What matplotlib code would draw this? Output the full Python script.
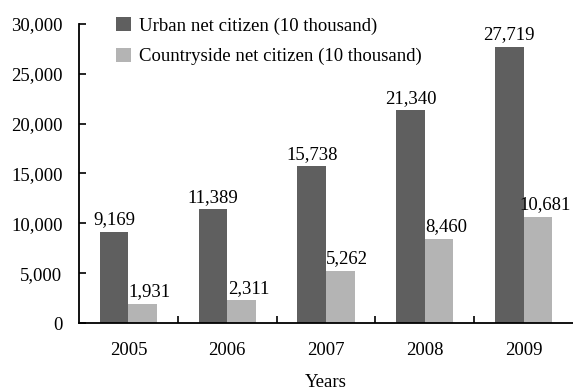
import matplotlib
matplotlib.use("Agg")
import matplotlib.pyplot as plt
import numpy as np
from matplotlib.ticker import FuncFormatter, FixedLocator

years = ["2005", "2006", "2007", "2008", "2009"]
urban = [9169, 11389, 15738, 21340, 27719]
countryside = [1931, 2311, 5262, 8460, 10681]
series_names = ["Urban net citizen (10 thousand)", "Countryside net citizen (10 thousand)"]

plt.rcParams['font.family'] = ['Liberation Serif', 'DejaVu Serif']
FS = 13.5

fig = plt.figure(figsize=(5.73, 3.92), dpi=100)
ax = fig.add_axes([0.138, 0.176, 0.862, 0.763])

x = np.arange(len(years))
w = 0.29
b1 = ax.bar(x - w/2, urban, w, color='#5f5f5f', label=series_names[0])
b2 = ax.bar(x + w/2, countryside, w, color='#b4b4b4', label=series_names[1])

for rect, v in zip(b1, urban):
    ax.text(rect.get_x() + rect.get_width()/2, v + 330, f"{v:,}", ha='center', va='bottom', fontsize=FS)
for rect, v in zip(b2, countryside):
    ax.text(rect.get_x() + rect.get_width()/2 + 0.07, v + 330, f"{v:,}", ha='center', va='bottom', fontsize=FS)

ax.set_xlim(-0.5, 4.5)
ax.set_ylim(0, 30000)
ax.set_yticks(np.arange(0, 30001, 5000))
ax.yaxis.set_major_formatter(FuncFormatter(lambda v, p: f"{int(v):,}"))
ax.set_xticks(x)
ax.set_xticklabels(years)
ax.xaxis.set_minor_locator(FixedLocator([0.5, 1.5, 2.5, 3.5]))
ax.tick_params(axis='x', which='major', length=0, pad=13.5, labelsize=FS)
ax.tick_params(axis='x', which='minor', direction='in', length=5, width=1.2)
ax.tick_params(axis='y', direction='in', length=5, width=1.2, pad=12, labelsize=FS)

for s in ['top', 'right']:
    ax.spines[s].set_visible(False)
for s in ['left', 'bottom']:
    ax.spines[s].set_linewidth(1.3)

ax.set_xlabel("Years", fontsize=FS, labelpad=11)

ax.legend(loc='upper left', bbox_to_anchor=(0.04, 1.08), frameon=False, fontsize=FS,
          handlelength=0.8, handleheight=0.8, handletextpad=0.45, labelspacing=0.7)

fig.savefig("out.png", dpi=100)
